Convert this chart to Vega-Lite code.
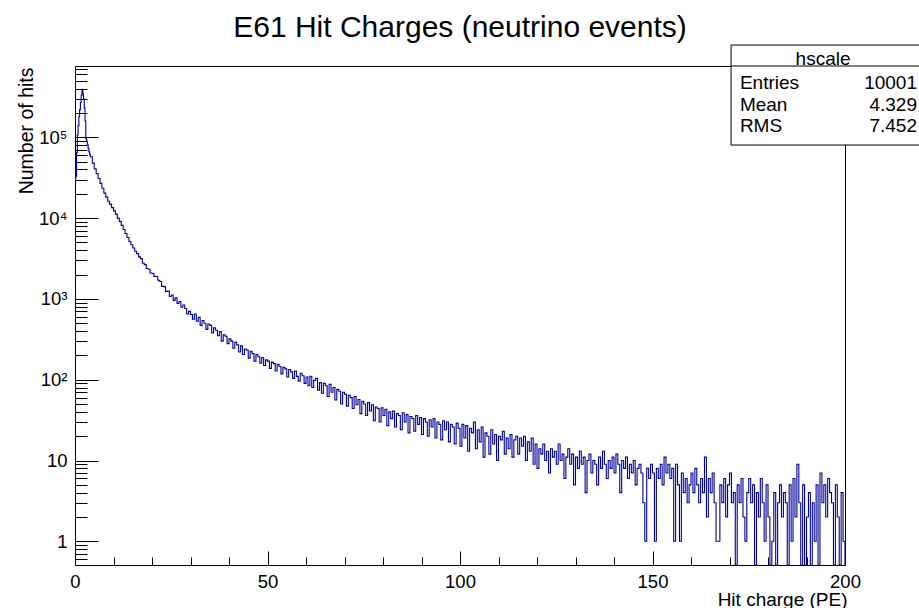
{
  "$schema": "https://vega.github.io/schema/vega-lite/v6.json",
  "width": 770,
  "height": 499,
  "autosize": {"type": "none"},
  "padding": {"left": 75, "top": 66, "right": 74, "bottom": 43},
  "background": "white",
  "title": {"text": "E61 Hit Charges (neutrino events)", "font": "Liberation Sans", "fontSize": 30, "fontWeight": "normal", "color": "black", "anchor": "middle", "frame": "group", "baseline": "alphabetic", "offset": -22},
  "config": {
    "view": {"stroke": "black", "strokeWidth": 1},
    "axis": {"grid": false, "labelFont": "Liberation Sans", "titleFont": "Liberation Sans", "labelColor": "black", "titleColor": "black", "tickColor": "black", "domainColor": "black", "titleFontWeight": "normal", "tickWidth": 1, "domainWidth": 1}
  },
  "datasets": {
    "h": [
      {"q":0,"n":31000},{"q":0.2,"n":33000},{"q":0.4,"n":65000},{"q":0.6,"n":107000},{"q":0.8,"n":140000},{"q":1,"n":180000},{"q":1.2,"n":220000},{"q":1.4,"n":270000},{"q":1.6,"n":330000},{"q":1.8,"n":393000},{"q":2,"n":350000},{"q":2.2,"n":300000},{"q":2.4,"n":230000},{"q":2.6,"n":160000},{"q":2.8,"n":97000},{"q":3,"n":90000},{"q":3.2,"n":82000},{"q":3.4,"n":73000},{"q":3.6,"n":66000},{"q":3.8,"n":61000},
      {"q":4,"n":57500},{"q":4.5,"n":47900},{"q":5,"n":40700},{"q":5.5,"n":35500},{"q":6,"n":30900},{"q":6.5,"n":26900},{"q":7,"n":23400},{"q":7.5,"n":20400},{"q":8,"n":18200},{"q":8.5,"n":16200},{"q":9,"n":14800},{"q":9.5,"n":13500},{"q":10,"n":12300},{"q":10.5,"n":11200},{"q":11,"n":10000},{"q":11.5,"n":9120},{"q":12,"n":8130},{"q":12.5,"n":7240},{"q":13,"n":6460},{"q":13.5,"n":5750},{"q":14,"n":5130},{"q":14.5,"n":4680},{"q":15,"n":4270},{"q":15.5,"n":3890},{"q":16,"n":3630},{"q":16.5,"n":3310},{"q":17,"n":3150},{"q":17.5,"n":2760},{"q":18,"n":2660},{"q":18.5,"n":2380},{"q":19,"n":2330},{"q":19.5,"n":2090},{"q":20,"n":2060},{"q":20.5,"n":1900},{"q":21,"n":1890},{"q":21.5,"n":1700},{"q":22,"n":1640},{"q":22.5,"n":1430},{"q":23,"n":1420},{"q":23.5,"n":1240},{"q":24,"n":1250},{"q":24.5,"n":1070},{"q":25,"n":1120},{"q":25.5,"n":960},{"q":26,"n":1030},{"q":26.5,"n":880},{"q":27,"n":930},{"q":27.5,"n":790},{"q":28,"n":840},{"q":28.5,"n":760},{"q":29,"n":650},{"q":29.5,"n":700},
      {"q":30,"n":640},{"q":30.5,"n":560},{"q":31,"n":650},{"q":31.5,"n":530},{"q":32,"n":590},{"q":32.5,"n":470},{"q":33,"n":540},{"q":33.5,"n":500},{"q":34,"n":420},{"q":34.5,"n":490},{"q":35,"n":470},{"q":35.5,"n":380},{"q":36,"n":440},{"q":36.5,"n":410},{"q":37,"n":350},{"q":37.5,"n":395},{"q":38,"n":300},{"q":38.5,"n":360},{"q":39,"n":345},{"q":39.5,"n":280},{"q":40,"n":320},{"q":40.5,"n":300},{"q":41,"n":245},{"q":41.5,"n":290},{"q":42,"n":270},{"q":42.5,"n":220},{"q":43,"n":262},{"q":43.5,"n":205},{"q":44,"n":240},{"q":44.5,"n":232},{"q":45,"n":185},{"q":45.5,"n":225},{"q":46,"n":210},{"q":46.5,"n":170},{"q":47,"n":205},{"q":47.5,"n":192},{"q":48,"n":160},{"q":48.5,"n":188},{"q":49,"n":150},{"q":49.5,"n":176},{"q":50,"n":170},{"q":50.5,"n":138},{"q":51,"n":165},{"q":51.5,"n":158},{"q":52,"n":128},{"q":52.5,"n":155},{"q":53,"n":146},{"q":53.5,"n":118},{"q":54,"n":142},{"q":54.5,"n":136},{"q":55,"n":108},{"q":55.5,"n":134},{"q":56,"n":125},{"q":56.5,"n":104},{"q":57,"n":128},{"q":57.5,"n":110},{"q":58,"n":96},{"q":58.5,"n":120},{"q":59,"n":112},{"q":59.5,"n":90},
      {"q":60,"n":108},{"q":60.5,"n":84},{"q":61,"n":110},{"q":61.5,"n":80},{"q":62,"n":98},{"q":62.5,"n":104},{"q":63,"n":74},{"q":63.5,"n":92},{"q":64,"n":68},{"q":64.5,"n":90},{"q":65,"n":84},{"q":65.5,"n":62},{"q":66,"n":88},{"q":66.5,"n":70},{"q":67,"n":80},{"q":67.5,"n":56},{"q":68,"n":76},{"q":68.5,"n":72},{"q":69,"n":50},{"q":69.5,"n":70},{"q":70,"n":66},{"q":70.5,"n":47},{"q":71,"n":64},{"q":71.5,"n":60},{"q":72,"n":44},{"q":72.5,"n":62},{"q":73,"n":49},{"q":73.5,"n":57},{"q":74,"n":38},{"q":74.5,"n":54},{"q":75,"n":50},{"q":75.5,"n":36},{"q":76,"n":52},{"q":76.5,"n":41},{"q":77,"n":49},{"q":77.5,"n":31},{"q":78,"n":46},{"q":78.5,"n":44},{"q":79,"n":30},{"q":79.5,"n":45},{"q":80,"n":36},{"q":80.5,"n":43},{"q":81,"n":27},{"q":81.5,"n":40},{"q":82,"n":33},{"q":82.5,"n":41},{"q":83,"n":26},{"q":83.5,"n":38},{"q":84,"n":36},{"q":84.5,"n":24},{"q":85,"n":39},{"q":85.5,"n":30},{"q":86,"n":37},{"q":86.5,"n":22},{"q":87,"n":35},{"q":87.5,"n":33},{"q":88,"n":23},{"q":88.5,"n":36},{"q":89,"n":28},{"q":89.5,"n":34},{"q":90,"n":21},{"q":90.5,"n":33},{"q":91,"n":30},{"q":91.5,"n":20},{"q":92,"n":32},{"q":92.5,"n":26},{"q":93,"n":33},{"q":93.5,"n":19},{"q":94,"n":30},{"q":94.5,"n":28},{"q":95,"n":18},{"q":95.5,"n":31},{"q":96,"n":24},{"q":96.5,"n":30},{"q":97,"n":17},{"q":97.5,"n":28},{"q":98,"n":26},{"q":98.5,"n":16},{"q":99,"n":29},{"q":99.5,"n":25},
      {"q":100,"n":15},{"q":100.5,"n":28},{"q":101,"n":19},{"q":101.5,"n":27},{"q":102,"n":13},{"q":102.5,"n":25},{"q":103,"n":22},{"q":103.5,"n":30},{"q":104,"n":14},{"q":104.5,"n":24},{"q":105,"n":17},{"q":105.5,"n":26},{"q":106,"n":11},{"q":106.5,"n":22},{"q":107,"n":20},{"q":107.5,"n":12},{"q":108,"n":24},{"q":108.5,"n":16},{"q":109,"n":21},{"q":109.5,"n":10},{"q":110,"n":20},{"q":110.5,"n":18},{"q":111,"n":23},{"q":111.5,"n":12},{"q":112,"n":19},{"q":112.5,"n":14},{"q":113,"n":21},{"q":113.5,"n":11},{"q":114,"n":18},{"q":114.5,"n":20},{"q":115,"n":12},{"q":115.5,"n":19},{"q":116,"n":15},{"q":116.5,"n":20},{"q":117,"n":10},{"q":117.5,"n":17},{"q":118,"n":13},{"q":118.5,"n":19},{"q":119,"n":9},{"q":119.5,"n":16},{"q":120,"n":8},{"q":120.5,"n":14},{"q":121,"n":12},{"q":121.5,"n":16},{"q":122,"n":10},{"q":122.5,"n":13},{"q":123,"n":7},{"q":123.5,"n":14},{"q":124,"n":11},{"q":124.5,"n":13},{"q":125,"n":9},{"q":125.5,"n":16},{"q":126,"n":10},{"q":126.5,"n":12},{"q":127,"n":6},{"q":127.5,"n":11},{"q":128,"n":14},{"q":128.5,"n":9},{"q":129,"n":12},{"q":129.5,"n":5},{"q":130,"n":11},{"q":130.5,"n":8},{"q":131,"n":13},{"q":131.5,"n":9},{"q":132,"n":11},{"q":132.5,"n":4},{"q":133,"n":10},{"q":133.5,"n":12},{"q":134,"n":7},{"q":134.5,"n":10},{"q":135,"n":9},{"q":135.5,"n":5},{"q":136,"n":11},{"q":136.5,"n":8},{"q":137,"n":13},{"q":137.5,"n":9},{"q":138,"n":6},{"q":138.5,"n":10},{"q":139,"n":8},{"q":139.5,"n":11},{"q":140,"n":7},{"q":140.5,"n":12},{"q":141,"n":9},{"q":141.5,"n":4},{"q":142,"n":10},{"q":142.5,"n":8},{"q":143,"n":11},{"q":143.5,"n":6},{"q":144,"n":9},{"q":144.5,"n":7},{"q":145,"n":10},{"q":145.5,"n":5},{"q":146,"n":8},{"q":146.5,"n":9},{"q":147,"n":7},{"q":147.5,"n":3},{"q":148,"n":1},{"q":148.5,"n":8},{"q":149,"n":6},{"q":149.5,"n":9},
      {"q":150,"n":7},{"q":150.5,"n":1},{"q":151,"n":8},{"q":151.5,"n":6},{"q":152,"n":9},{"q":152.5,"n":5},{"q":153,"n":11},{"q":153.5,"n":7},{"q":154,"n":9},{"q":154.5,"n":6},{"q":155,"n":8},{"q":155.5,"n":1},{"q":156,"n":9},{"q":156.5,"n":5},{"q":157,"n":1},{"q":157.5,"n":7},{"q":158,"n":4},{"q":158.5,"n":6},{"q":159,"n":3},{"q":159.5,"n":5},{"q":160,"n":7},{"q":160.5,"n":4},{"q":161,"n":8},{"q":161.5,"n":5},{"q":162,"n":3},{"q":162.5,"n":6},{"q":163,"n":4},{"q":163.5,"n":11},{"q":164,"n":2},{"q":164.5,"n":6},{"q":165,"n":4},{"q":165.5,"n":7},{"q":166,"n":3},{"q":166.5,"n":1},{"q":167,"n":1},{"q":167.5,"n":5},{"q":168,"n":3},{"q":168.5,"n":6},{"q":169,"n":2},{"q":169.5,"n":5},{"q":170,"n":7},{"q":170.5,"n":3},{"q":171,"n":4},{"q":171.5,"n":0},{"q":172,"n":5},{"q":172.5,"n":3},{"q":173,"n":6},{"q":173.5,"n":2},{"q":174,"n":1},{"q":174.5,"n":4},{"q":175,"n":6},{"q":175.5,"n":3},{"q":176,"n":5},{"q":176.5,"n":0},{"q":177,"n":4},{"q":177.5,"n":2},{"q":178,"n":6},{"q":178.5,"n":3},{"q":179,"n":1},{"q":179.5,"n":5},{"q":180,"n":2},{"q":180.5,"n":0},{"q":181,"n":1},{"q":181.5,"n":4},{"q":182,"n":0},{"q":182.5,"n":3},{"q":183,"n":5},{"q":183.5,"n":2},{"q":184,"n":4},{"q":184.5,"n":3},{"q":185,"n":0},{"q":185.5,"n":5},{"q":186,"n":1},{"q":186.5,"n":6},{"q":187,"n":2},{"q":187.5,"n":9},{"q":188,"n":3},{"q":188.5,"n":0},{"q":189,"n":5},{"q":189.5,"n":0},{"q":190,"n":2},{"q":190.5,"n":4},{"q":191,"n":0},{"q":191.5,"n":3},{"q":192,"n":1},{"q":192.5,"n":5},{"q":193,"n":0},{"q":193.5,"n":7},{"q":194,"n":3},{"q":194.5,"n":5},{"q":195,"n":2},{"q":195.5,"n":6},{"q":196,"n":4},{"q":196.5,"n":3},{"q":197,"n":0},{"q":197.5,"n":5},{"q":198,"n":2},{"q":198.5,"n":0},{"q":199,"n":4},{"q":199.5,"n":1},{"q":200,"n":0}
    ],
    "stats": [
      {"k": "hscale", "v": ""},
      {"k": "Entries", "v": "10001"},
      {"k": "Mean", "v": "4.329"},
      {"k": "RMS", "v": "7.452"}
    ]
  },
  "layer": [
    {
      "data": {"name": "h"},
      "layer": [
        {
          "mark": {"type": "line", "interpolate": "step-after", "color": "#000099", "strokeWidth": 1.1},
          "encoding": {
            "x": {"field": "q", "type": "quantitative", "scale": {"domain": [0, 200], "clamp": true, "nice": false, "zero": false},
              "axis": {"orient": "bottom", "values": [0, 50, 100, 150, 200], "tickSize": -14, "labelPadding": 21, "labelFontSize": 18.5, "labelAngle": 0, "labelFlush": false, "labelOverlap": false, "format": "d",
                "title": "Hit charge (PE)", "titleFontSize": 19, "titleAlign": "right", "titleBaseline": "alphabetic", "titleAnchor": "end", "titleX": 772, "titleY": 40}},
            "y": {"field": "n", "type": "quantitative", "scale": {"type": "log", "domain": [0.509, 763000], "clamp": true, "nice": false},
              "axis": {"orient": "left", "values": [1, 10, 100, 1000, 10000, 100000], "tickSize": -23, "labelPadding": 31, "labelFontSize": 18.5, "labelFlush": false, "labelOverlap": false, "labelBaseline": "middle",
                "labelExpr": "datum.value < 5 ? '1' : datum.value < 50 ? '10' : datum.value < 500 ? '10²' : datum.value < 5000 ? '10³' : datum.value < 50000 ? '10⁴' : '10⁵'",
                "title": "Number of hits", "titleFontSize": 19.5, "titleAngle": -90, "titleAlign": "right", "titleBaseline": "alphabetic", "titleAnchor": "end", "titleX": -43, "titleY": 1}}
          }
        },
        {
          "mark": {"type": "line", "interpolate": "step-after", "strokeOpacity": 0},
          "encoding": {
            "x": {"field": "q", "type": "quantitative", "scale": {"domain": [0, 200], "clamp": true, "nice": false, "zero": false},
              "axis": {"orient": "bottom", "values": [10, 20, 30, 40, 60, 70, 80, 90, 110, 120, 130, 140, 160, 170, 180, 190], "tickSize": -8, "labels": false, "domain": false, "title": null}},
            "y": {"field": "n", "type": "quantitative", "scale": {"type": "log", "domain": [0.509, 763000], "clamp": true, "nice": false},
              "axis": {"orient": "left", "values": [0.6, 0.7, 0.8, 0.9, 2, 3, 4, 5, 6, 7, 8, 9, 20, 30, 40, 50, 60, 70, 80, 90, 200, 300, 400, 500, 600, 700, 800, 900, 2000, 3000, 4000, 5000, 6000, 7000, 8000, 9000, 20000, 30000, 40000, 50000, 60000, 70000, 80000, 90000, 200000, 300000, 400000, 500000, 600000, 700000], "tickSize": -12, "labels": false, "domain": false, "title": null}}
          }
        }
      ],
      "resolve": {"axis": {"x": "independent", "y": "independent"}}
    },
    {
      "data": {"name": "stats"},
      "layer": [
        {
          "transform": [{"filter": "datum.k == 'hscale'"}],
          "mark": {"type": "rect", "fill": "white", "stroke": "black", "strokeWidth": 1},
          "encoding": {
            "x": {"datum": 170.4, "type": "quantitative", "scale": {"domain": [0, 200], "nice": false, "zero": false}, "axis": null},
            "x2": {"datum": 222},
            "y": {"datum": 1387000, "type": "quantitative", "scale": {"type": "log", "domain": [0.509, 763000], "nice": false}, "axis": null},
            "y2": {"datum": 80300}
          }
        },
        {
          "transform": [{"filter": "datum.k == 'hscale'"}],
          "mark": {"type": "rule", "color": "black", "strokeWidth": 1},
          "encoding": {
            "x": {"datum": 170.4, "type": "quantitative", "scale": {"domain": [0, 200], "nice": false, "zero": false}, "axis": null},
            "x2": {"datum": 222},
            "y": {"datum": 763000, "type": "quantitative", "scale": {"type": "log", "domain": [0.509, 763000], "nice": false}, "axis": null}
          }
        },
        {
          "transform": [{"filter": "datum.k == 'hscale'"}],
          "mark": {"type": "text", "font": "Liberation Sans", "fontSize": 19, "color": "black", "align": "center", "baseline": "middle"},
          "encoding": {
            "x": {"datum": 194.3, "type": "quantitative", "scale": {"domain": [0, 200], "nice": false, "zero": false}, "axis": null},
            "y": {"datum": 931000, "type": "quantitative", "scale": {"type": "log", "domain": [0.509, 763000], "nice": false}, "axis": null},
            "text": {"field": "k"}
          }
        },
        {
          "transform": [{"filter": "datum.k == 'Entries'"}],
          "mark": {"type": "text", "font": "Liberation Sans", "fontSize": 19, "color": "black", "align": "left", "baseline": "middle"},
          "encoding": {
            "x": {"datum": 172.7, "type": "quantitative", "scale": {"domain": [0, 200], "nice": false, "zero": false}, "axis": null},
            "y": {"datum": 466000, "type": "quantitative", "scale": {"type": "log", "domain": [0.509, 763000], "nice": false}, "axis": null},
            "text": {"field": "k"}
          }
        },
        {
          "transform": [{"filter": "datum.k == 'Entries'"}],
          "mark": {"type": "text", "font": "Liberation Sans", "fontSize": 19, "color": "black", "align": "right", "baseline": "middle"},
          "encoding": {
            "x": {"datum": 218.7, "type": "quantitative", "scale": {"domain": [0, 200], "nice": false, "zero": false}, "axis": null},
            "y": {"datum": 466000, "type": "quantitative", "scale": {"type": "log", "domain": [0.509, 763000], "nice": false}, "axis": null},
            "text": {"field": "v"}
          }
        },
        {
          "transform": [{"filter": "datum.k == 'Mean'"}],
          "mark": {"type": "text", "font": "Liberation Sans", "fontSize": 19, "color": "black", "align": "left", "baseline": "middle"},
          "encoding": {
            "x": {"datum": 172.7, "type": "quantitative", "scale": {"domain": [0, 200], "nice": false, "zero": false}, "axis": null},
            "y": {"datum": 251000, "type": "quantitative", "scale": {"type": "log", "domain": [0.509, 763000], "nice": false}, "axis": null},
            "text": {"field": "k"}
          }
        },
        {
          "transform": [{"filter": "datum.k == 'Mean'"}],
          "mark": {"type": "text", "font": "Liberation Sans", "fontSize": 19, "color": "black", "align": "right", "baseline": "middle"},
          "encoding": {
            "x": {"datum": 218.7, "type": "quantitative", "scale": {"domain": [0, 200], "nice": false, "zero": false}, "axis": null},
            "y": {"datum": 251000, "type": "quantitative", "scale": {"type": "log", "domain": [0.509, 763000], "nice": false}, "axis": null},
            "text": {"field": "v"}
          }
        },
        {
          "transform": [{"filter": "datum.k == 'RMS'"}],
          "mark": {"type": "text", "font": "Liberation Sans", "fontSize": 19, "color": "black", "align": "left", "baseline": "middle"},
          "encoding": {
            "x": {"datum": 172.7, "type": "quantitative", "scale": {"domain": [0, 200], "nice": false, "zero": false}, "axis": null},
            "y": {"datum": 138000, "type": "quantitative", "scale": {"type": "log", "domain": [0.509, 763000], "nice": false}, "axis": null},
            "text": {"field": "k"}
          }
        },
        {
          "transform": [{"filter": "datum.k == 'RMS'"}],
          "mark": {"type": "text", "font": "Liberation Sans", "fontSize": 19, "color": "black", "align": "right", "baseline": "middle"},
          "encoding": {
            "x": {"datum": 218.7, "type": "quantitative", "scale": {"domain": [0, 200], "nice": false, "zero": false}, "axis": null},
            "y": {"datum": 138000, "type": "quantitative", "scale": {"type": "log", "domain": [0.509, 763000], "nice": false}, "axis": null},
            "text": {"field": "v"}
          }
        }
      ]
    }
  ],
  "resolve": {"scale": {"x": "independent", "y": "independent"}}
}
